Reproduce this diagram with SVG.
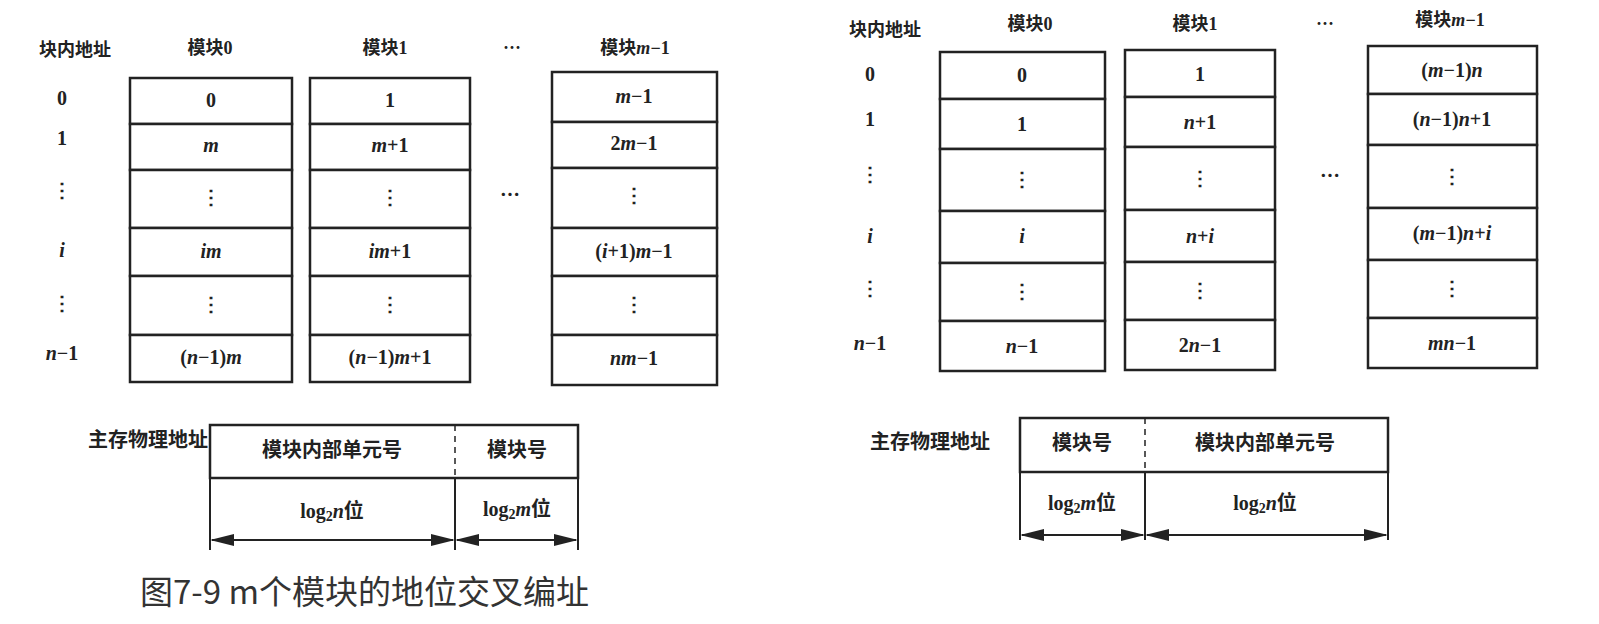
<svg xmlns="http://www.w3.org/2000/svg" width="1599" height="624" viewBox="0 0 1599 624">
<style>
.c{fill:#fff;stroke:#222;stroke-width:2.5}
.t{font-family:"Liberation Serif","Noto Sans CJK SC",serif;font-size:20px;fill:#222;text-anchor:middle;dominant-baseline:middle;font-weight:bold}
.h{font-family:"Liberation Serif","Noto Sans CJK SC",serif;font-size:18px;fill:#222;text-anchor:middle;font-weight:bold}
.z{font-family:"Noto Sans CJK SC",sans-serif;font-size:20px;fill:#222;text-anchor:middle;dominant-baseline:middle;font-weight:bold}
.l{stroke:#222;stroke-width:2;fill:none}
.d{stroke:#222;stroke-width:1.5;stroke-dasharray:6 5;fill:none}
</style>
<defs><marker id="a" markerWidth="12" markerHeight="8" refX="11" refY="4" orient="auto-start-reverse"><path d="M0,1 L12,4 L0,7z" fill="#222"/></marker></defs>
<rect width="1599" height="624" fill="#fff"/>
<g id="left">
<text class="h" x="75" y="56">块内地址</text><text class="h" x="210" y="54">模块0</text><text class="h" x="385" y="54">模块1</text><text class="h" x="512" y="54">⋯</text><text class="h" x="635" y="54">模块<tspan font-style="italic">m</tspan>−1</text>
<g class="t"><text x="62" y="100">0</text><text x="62" y="140">1</text><text x="62" y="192">⋮</text><text x="62" y="252" font-style="italic">i</text><text x="62" y="305">⋮</text><text x="62" y="355"><tspan font-style="italic">n</tspan>−1</text><text x="510" y="197">⋯</text></g>
<g id="lc0"><rect class="c" x="130" y="78" width="162" height="46"/><rect class="c" x="130" y="124" width="162" height="46"/><rect class="c" x="130" y="170" width="162" height="58"/><rect class="c" x="130" y="228" width="162" height="48"/><rect class="c" x="130" y="276" width="162" height="59"/><rect class="c" x="130" y="335" width="162" height="47"/>
<g class="t"><text x="211" y="102">0</text><text x="211" y="147" font-style="italic">m</text><text x="211" y="199">⋮</text><text x="211" y="253" font-style="italic">im</text><text x="211" y="306">⋮</text><text x="211" y="359">(<tspan font-style="italic">n</tspan>−1)<tspan font-style="italic">m</tspan></text></g></g>
<g id="lc1"><rect class="c" x="310" y="78" width="160" height="46"/><rect class="c" x="310" y="124" width="160" height="46"/><rect class="c" x="310" y="170" width="160" height="58"/><rect class="c" x="310" y="228" width="160" height="48"/><rect class="c" x="310" y="276" width="160" height="59"/><rect class="c" x="310" y="335" width="160" height="47"/>
<g class="t"><text x="390" y="102">1</text><text x="390" y="147"><tspan font-style="italic">m</tspan>+1</text><text x="390" y="199">⋮</text><text x="390" y="253"><tspan font-style="italic">im</tspan>+1</text><text x="390" y="306">⋮</text><text x="390" y="359">(<tspan font-style="italic">n</tspan>−1)<tspan font-style="italic">m</tspan>+1</text></g></g>
<g id="lc2"><rect class="c" x="552" y="72" width="165" height="50"/><rect class="c" x="552" y="122" width="165" height="46"/><rect class="c" x="552" y="168" width="165" height="60"/><rect class="c" x="552" y="228" width="165" height="48"/><rect class="c" x="552" y="276" width="165" height="59"/><rect class="c" x="552" y="335" width="165" height="50"/>
<g class="t"><text x="634" y="98"><tspan font-style="italic">m</tspan>−1</text><text x="634" y="145">2<tspan font-style="italic">m</tspan>−1</text><text x="634" y="197">⋮</text><text x="634" y="253">(<tspan font-style="italic">i</tspan>+1)<tspan font-style="italic">m</tspan>−1</text><text x="634" y="306">⋮</text><text x="634" y="360"><tspan font-style="italic">nm</tspan>−1</text></g></g>
<g id="laddr"><text class="z" x="148" y="442" font-size="18">主存物理地址</text>
<rect class="c" x="210" y="425" width="368" height="53"/><line class="d" x1="455" y1="425" x2="455" y2="478"/>
<path class="l" d="M210,478 V550 M455,478 V550 M578,478 V550"/>
<text class="z" x="332" y="452">模块内部单元号</text><text class="z" x="517" y="452">模块号</text>
<text class="t" x="332" y="513">log<tspan font-size="14" dy="5">2</tspan><tspan dy="-5" font-style="italic">n</tspan>位</text>
<text class="t" x="517" y="511">log<tspan font-size="14" dy="5">2</tspan><tspan dy="-5" font-style="italic">m</tspan>位</text></g>
</g>
<g id="right">
<text class="h" x="885" y="36">块内地址</text><text class="h" x="1030" y="30">模块0</text><text class="h" x="1195" y="30">模块1</text><text class="h" x="1325" y="30">⋯</text><text class="h" x="1450" y="26">模块<tspan font-style="italic">m</tspan>−1</text>
<g class="t"><text x="870" y="76">0</text><text x="870" y="121">1</text><text x="870" y="176">⋮</text><text x="870" y="238" font-style="italic">i</text><text x="870" y="290">⋮</text><text x="870" y="345"><tspan font-style="italic">n</tspan>−1</text><text x="1330" y="178">⋯</text></g>
<g id="rc0"><rect class="c" x="940" y="52" width="165" height="47"/><rect class="c" x="940" y="99" width="165" height="50"/><rect class="c" x="940" y="149" width="165" height="62"/><rect class="c" x="940" y="211" width="165" height="52"/><rect class="c" x="940" y="263" width="165" height="58"/><rect class="c" x="940" y="321" width="165" height="50"/>
<g class="t"><text x="1022" y="77">0</text><text x="1022" y="126">1</text><text x="1022" y="181">⋮</text><text x="1022" y="238" font-style="italic">i</text><text x="1022" y="293">⋮</text><text x="1022" y="348"><tspan font-style="italic">n</tspan>−1</text></g></g>
<g id="rc1"><rect class="c" x="1125" y="50" width="150" height="47"/><rect class="c" x="1125" y="97" width="150" height="50"/><rect class="c" x="1125" y="147" width="150" height="63"/><rect class="c" x="1125" y="210" width="150" height="52"/><rect class="c" x="1125" y="262" width="150" height="58"/><rect class="c" x="1125" y="320" width="150" height="50"/>
<g class="t"><text x="1200" y="76">1</text><text x="1200" y="124"><tspan font-style="italic">n</tspan>+1</text><text x="1200" y="180">⋮</text><text x="1200" y="238"><tspan font-style="italic">n</tspan>+<tspan font-style="italic">i</tspan></text><text x="1200" y="292">⋮</text><text x="1200" y="347">2<tspan font-style="italic">n</tspan>−1</text></g></g>
<g id="rc2"><rect class="c" x="1368" y="46" width="169" height="48"/><rect class="c" x="1368" y="94" width="169" height="51"/><rect class="c" x="1368" y="145" width="169" height="63"/><rect class="c" x="1368" y="208" width="169" height="52"/><rect class="c" x="1368" y="260" width="169" height="58"/><rect class="c" x="1368" y="318" width="169" height="50"/>
<g class="t"><text x="1452" y="72">(<tspan font-style="italic">m</tspan>−1)<tspan font-style="italic">n</tspan></text><text x="1452" y="121">(<tspan font-style="italic">n</tspan>−1)<tspan font-style="italic">n</tspan>+1</text><text x="1452" y="178">⋮</text><text x="1452" y="235">(<tspan font-style="italic">m</tspan>−1)<tspan font-style="italic">n</tspan>+<tspan font-style="italic">i</tspan></text><text x="1452" y="290">⋮</text><text x="1452" y="345"><tspan font-style="italic">mn</tspan>−1</text></g></g>
<g id="raddr"><text class="z" x="930" y="444" font-size="18">主存物理地址</text>
<rect class="c" x="1020" y="418" width="368" height="54"/><line class="d" x1="1145" y1="418" x2="1145" y2="472"/>
<path class="l" d="M1020,472 V540 M1145,472 V540 M1388,472 V540"/>
<text class="z" x="1082" y="445">模块号</text><text class="z" x="1265" y="445">模块内部单元号</text>
<text class="t" x="1082" y="505">log<tspan font-size="14" dy="5">2</tspan><tspan dy="-5" font-style="italic">m</tspan>位</text>
<text class="t" x="1265" y="505">log<tspan font-size="14" dy="5">2</tspan><tspan dy="-5" font-style="italic">n</tspan>位</text></g>
</g>
<g id="connectors">
<line class="l" x1="212" y1="540" x2="453" y2="540" marker-start="url(#a)" marker-end="url(#a)"/>
<line class="l" x1="457" y1="540" x2="576" y2="540" marker-start="url(#a)" marker-end="url(#a)"/>
<line class="l" x1="1022" y1="535" x2="1143" y2="535" marker-start="url(#a)" marker-end="url(#a)"/>
<line class="l" x1="1147" y1="535" x2="1386" y2="535" marker-start="url(#a)" marker-end="url(#a)"/>
</g>
<text x="140" y="604" font-family="'Noto Sans CJK SC',sans-serif" font-size="33" fill="#333">图7-9 m个模块的地位交叉编址</text>
</svg>
